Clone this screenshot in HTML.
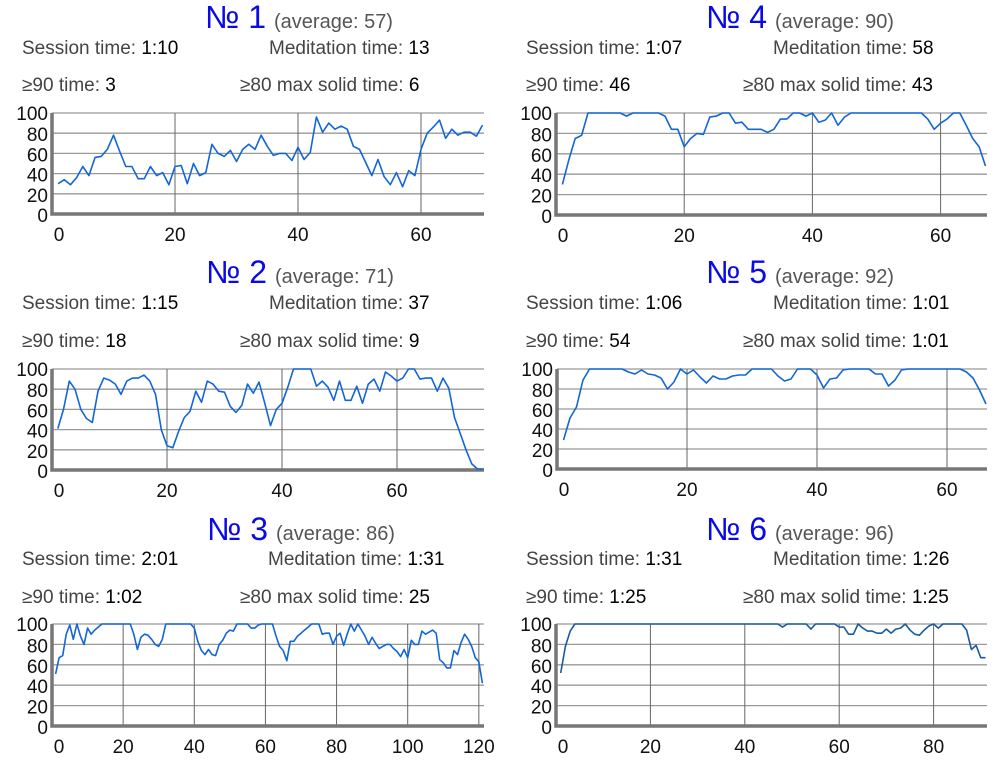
<!DOCTYPE html>
<html><head><meta charset="utf-8"><style>
html,body{margin:0;padding:0;background:#fff;}
svg{display:block;font-family:"Liberation Sans",sans-serif;}
</style></head><body>
<svg id="s" width="1000" height="763" viewBox="0 0 1000 763" xmlns="http://www.w3.org/2000/svg"></svg>
<script>
const yTicks = [0,20,40,60,80,100];
const s1 = [30,34,29,36,47,38,56,57,64,78,62,47,47,35,35,47,38,41,29,47,48,30,50,38,41,69,60,57,63,52,64,69,64,78,67,58,60,60,53,66,54,61,96,81,90,84,87,84,67,64,51,38,54,37,29,41,27,43,38,64,80,86,93,75,84,78,81,81,77,88];
const s2 = [41,60,88,80,60,51,47,78,91,89,85,75,88,91,91,94,88,75,40,24,22,38,52,58,78,67,88,85,78,77,63,57,64,85,76,87,66,44,60,66,82,100,100,100,100,83,88,82,69,88,69,69,83,66,85,90,78,97,93,88,91,100,100,90,91,91,78,91,81,52,36,20,6,1,1];
const s3 = [51,67,69,90,99,85,100,88,80,96,90,94,97,100,100,100,100,100,100,100,100,100,90,75,87,90,89,85,80,78,85,100,100,100,100,100,100,100,100,96,83,74,70,75,70,69,80,84,91,94,93,100,100,100,100,96,96,99,100,100,100,100,88,78,74,64,83,83,88,91,94,97,100,100,100,90,91,91,80,88,91,79,90,100,93,100,94,88,80,87,81,76,78,80,80,76,73,68,75,67,84,80,80,93,90,92,94,91,65,62,57,57,74,70,82,90,85,78,67,63,42];
const s4 = [30,54,75,78,100,100,100,100,100,100,97,100,100,100,100,100,97,84,84,67,75,80,79,96,97,100,100,90,91,84,84,84,81,84,94,94,100,100,97,100,91,93,100,88,96,100,100,100,100,100,100,100,100,100,100,100,100,94,84,90,94,100,100,88,75,67,48];
const s5 = [29,51,62,89,100,100,100,100,100,100,97,95,99,95,94,91,80,87,100,95,99,92,86,93,90,90,93,94,94,100,100,100,100,93,88,90,100,100,100,94,81,90,91,99,100,100,100,100,95,95,83,89,99,100,100,100,100,100,100,100,100,100,97,91,79,65];
const s6 = [52,78,93,100,100,100,100,100,100,100,100,100,100,100,100,100,100,100,100,100,100,100,100,100,100,100,100,100,100,100,100,100,100,100,100,100,100,100,100,100,100,100,100,100,100,100,100,97,100,100,100,100,100,95,100,100,100,100,100,97,97,90,90,100,96,93,93,91,91,95,91,95,96,100,94,90,89,94,98,100,96,100,100,100,100,100,94,75,79,67,67];
const xTicks1 = [0,20,40,60];
const xTicks3 = [0,20,40,60,80,100,120];
const xTicks6 = [0,20,40,60,80];
const titles = ["№ 1","№ 2","№ 3","№ 4","№ 5","№ 6"];
const averages = ["(average: 57)","(average: 71)","(average: 86)","(average: 90)","(average: 92)","(average: 96)"];
const sessionT = ["1:10","1:15","2:01","1:07","1:06","1:31"];
const medT = ["13","37","1:31","58","1:01","1:26"];
const t90 = ["3","18","1:02","46","54","1:25"];
const solid80 = ["6","9","25","43","1:01","1:25"];

const series=[s1,s2,s3,s4,s5,s6];
const xt=[xTicks1,xTicks1,xTicks3,xTicks1,xTicks1,xTicks6];
const L=[
 {x0:52,x1:484,ux:6.15,top:113,bot:214,tb:28,tx:205,r1:54,r2:91,lx:22,mx:269,sx:240,color:"#1266d6"},
 {x0:52,x1:484,ux:5.75,top:369,bot:470,tb:283,tx:206,r1:309,r2:347,lx:22,mx:269,sx:240,color:"#1266d6"},
 {x0:52,x1:484,ux:3.557,top:624,bot:726,tb:540,tx:207,r1:565,r2:603,lx:22,mx:268,sx:240,color:"#1266d6"},
 {x0:556,x1:987,ux:6.41,top:113,bot:215,tb:28,tx:706,r1:54,r2:91,lx:526,mx:773,sx:743,color:"#1266d6"},
 {x0:557,x1:987,ux:6.5,top:369,bot:469,tb:283,tx:706,r1:309,r2:347,lx:526,mx:773,sx:743,color:"#1266d6"},
 {x0:556,x1:987,ux:4.72,top:624,bot:726,tb:540,tx:706,r1:565,r2:603,lx:526,mx:773,sx:743,color:"#1a5b9c"}
];
const NS="http://www.w3.org/2000/svg";
const svg=document.getElementById('s');
function mk(tag,attrs,parent,txt){const e=document.createElementNS(NS,tag);for(const k in attrs)e.setAttribute(k,attrs[k]);if(txt!==undefined)e.textContent=txt;(parent||svg).appendChild(e);return e;}
function label(g,x,y,lab,val,name){
  const t=mk('text',{x:x,y:y,'font-size':19,fill:'#444'},g);
  
  
  mk('tspan',{},t,lab+' ');
  mk('tspan',{fill:'#000'},t,val);
}
L.forEach((c,i)=>{
  const g=mk('g',{});
  
  
  const tt=mk('text',{x:c.tx,y:c.tb},g);
  
  
  mk('tspan',{fill:'#0a0ae6','font-size':32},tt,titles[i]);
  mk('tspan',{fill:'#555','font-size':20,dx:8},tt,averages[i]);
  label(g,c.lx,c.r1,'Session time:',sessionT[i],'session-time');
  label(g,c.mx,c.r1,'Meditation time:',medT[i],'meditation-time');
  label(g,c.lx,c.r2,'≥90 time:',t90[i],'ge90-time');
  label(g,c.sx,c.r2,'≥80 max solid time:',solid80[i],'ge80-solid-time');
  const X=v=>c.x0+v*c.ux;
  const Y=v=>c.bot-(c.bot-c.top)*v/100;
  const chart=mk('g',{},g);
  
  
  yTicks.forEach(v=>{
    if(v>0){const l=mk('line',{x1:c.x0,x2:c.x1,y1:Y(v),y2:Y(v),stroke:'#999','stroke-width':1.3},chart);
    
    }
    const t=mk('text',{x:c.x0-4,y:Y(v)+(v==100?7:8),'font-size':19,'text-anchor':'end',fill:'#111'},chart,String(v));
    
    
  });
  xt[i].forEach(v=>{
    if(v>0){const l=mk('line',{x1:X(v),x2:X(v),y1:c.top,y2:c.bot,stroke:'#666','stroke-width':1},chart);
    
    }
    const t=mk('text',{x:v==0?X(v)+7:X(v),y:c.bot+27,'font-size':19,'text-anchor':'middle',fill:'#111'},chart,String(v));
    
    
  });
  const ax=mk('path',{d:`M${c.x0} ${c.top} V${c.bot} H${c.x1}`,fill:'none',stroke:'#777','stroke-width':3.5},chart);
  
  
  const d=series[i].map((v,k)=>(k?'L':'M')+X(k+1).toFixed(1)+' '+Y(v).toFixed(1)).join(' ');
  const p=mk('path',{d:d,fill:'none',stroke:c.color,'stroke-width':1.6,'stroke-linejoin':'round'},chart);
  
  
});
</script>
</body></html>
